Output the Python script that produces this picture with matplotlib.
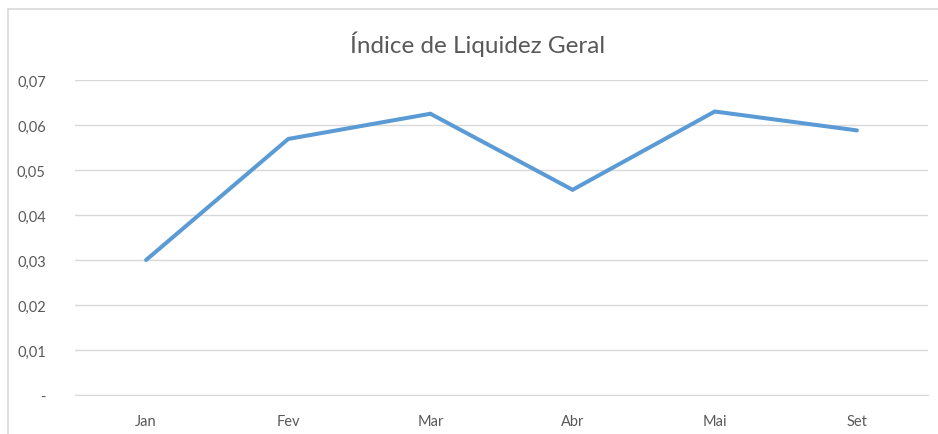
import matplotlib
matplotlib.use("Agg")
import matplotlib.pyplot as plt
from matplotlib.lines import Line2D

months = ["Jan", "Fev", "Mar", "Abr", "Mai", "Set"]
liquidez = [0.0300, 0.0569, 0.0625, 0.0456, 0.0630, 0.0588]
yticks = [0, 0.01, 0.02, 0.03, 0.04, 0.05, 0.06, 0.07]


def fmt_br(v):
    if v == 0:
        return "-"
    return f"{v:.2f}".replace(".", ",")


plt.rcParams['font.family'] = ['Lato', 'DejaVu Sans']

fig = plt.figure(figsize=(9.38, 4.35), dpi=100)
ax = fig.add_axes([75 / 938, 1 - 396 / 435, 853 / 938, 315 / 435])

x = range(len(months))
ax.plot(x, liquidez, color='#5B9BD5', linewidth=2.9, solid_capstyle='round',
        solid_joinstyle='miter', zorder=3)

ax.set_xlim(-0.5, len(months) - 0.5)
ax.set_ylim(0, 0.07)
ax.set_xticks(list(x))
ax.set_xticklabels(months)
ax.set_yticks(yticks)
ax.set_yticklabels([fmt_br(v) for v in yticks])
ax.tick_params(length=0, labelsize=10.5, labelcolor='#595959')
ax.tick_params(axis='y', pad=21)
ax.tick_params(axis='x', pad=14)
ax.grid(axis='y', color='#D9D9D9', linewidth=1.0)
ax.set_axisbelow(True)
for s in ax.spines.values():
    s.set_visible(False)
ax.spines['bottom'].set_visible(True)
ax.spines['bottom'].set_color('#D9D9D9')

fig.text(478 / 938, 1 - 44 / 435, "Índice de Liquidez Geral", ha='center',
         va='center', fontsize=17.5, color='#595959')

# chart frame (only top and left edges visible in the crop)
fig.add_artist(Line2D([8 / 938, 8 / 938], [0, 1 - 10 / 435], color='#D9D9D9',
                      linewidth=1.2, transform=fig.transFigure))
fig.add_artist(Line2D([8 / 938, 1], [1 - 10 / 435, 1 - 10 / 435], color='#D9D9D9',
                      linewidth=1.2, transform=fig.transFigure))

fig.savefig("out.png", dpi=100)
